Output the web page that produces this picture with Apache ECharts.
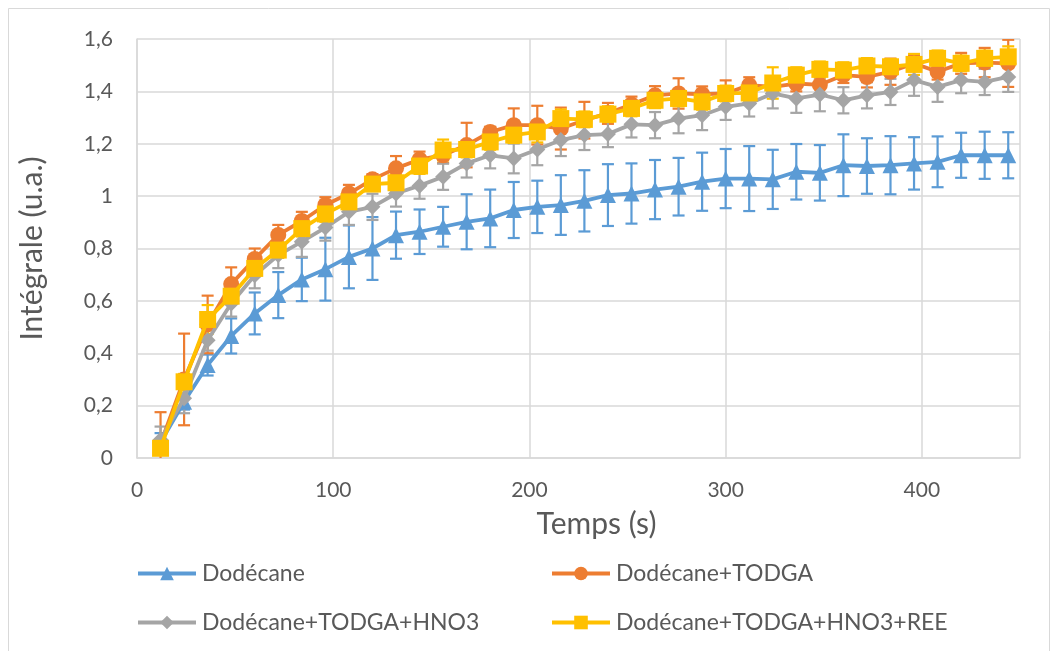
<!DOCTYPE html>
<html>
<head>
<meta charset="utf-8">
<script src="https://cdn.jsdelivr.net/npm/echarts@6/dist/echarts.min.js"></script>
<style>
html,body{margin:0;padding:0;background:#fff;}
#c{width:1056px;height:651px;}
</style>
</head>
<body>
<div id="c"></div>
<script>
// Time (s)
const times = [12,24,36,48,60,72,84,96,108,120,132,144,156,168,180,192,204,216,228,240,252,264,276,288,300,312,324,336,348,360,372,384,396,408,420,432,444];

const seriesNames = ['Dodécane','Dodécane+TODGA','Dodécane+TODGA+HNO3','Dodécane+TODGA+HNO3+REE'];

const dodecane = [0.06,0.215,0.355,0.466,0.552,0.622,0.682,0.721,0.768,0.80,0.851,0.864,0.883,0.902,0.915,0.947,0.959,0.966,0.982,1.004,1.01,1.025,1.036,1.055,1.067,1.067,1.064,1.093,1.089,1.118,1.115,1.118,1.125,1.131,1.156,1.156,1.156];
const dodecaneErr = [0.035,0.03,0.04,0.067,0.08,0.088,0.083,0.12,0.12,0.12,0.09,0.085,0.076,0.105,0.11,0.107,0.10,0.114,0.117,0.118,0.115,0.113,0.11,0.111,0.113,0.124,0.113,0.106,0.106,0.118,0.106,0.111,0.10,0.097,0.086,0.09,0.088];

const todga = [0.055,0.30,0.51,0.664,0.76,0.852,0.905,0.966,1.01,1.064,1.106,1.14,1.156,1.195,1.245,1.271,1.271,1.258,1.29,1.316,1.35,1.385,1.392,1.389,1.392,1.424,1.417,1.43,1.425,1.462,1.455,1.475,1.507,1.475,1.507,1.51,1.507];
const todgaErr = [0.12,0.175,0.11,0.064,0.04,0.038,0.035,0.03,0.033,0.02,0.047,0.03,0.03,0.085,0.02,0.064,0.074,0.08,0.07,0.04,0.03,0.035,0.058,0.03,0.05,0.03,0.03,0.03,0.04,0.03,0.04,0.05,0.03,0.03,0.04,0.056,0.09];

const hno3 = [0.07,0.228,0.45,0.59,0.698,0.775,0.826,0.88,0.94,0.959,1.01,1.04,1.074,1.125,1.156,1.144,1.178,1.214,1.233,1.237,1.274,1.271,1.296,1.309,1.341,1.354,1.392,1.373,1.388,1.366,1.385,1.398,1.443,1.417,1.443,1.436,1.455];
const hno3Err = [0.05,0.057,0.04,0.05,0.05,0.05,0.058,0.05,0.05,0.05,0.05,0.05,0.05,0.054,0.05,0.057,0.06,0.061,0.057,0.05,0.05,0.05,0.056,0.057,0.05,0.05,0.057,0.055,0.064,0.05,0.05,0.05,0.06,0.057,0.05,0.05,0.057];

const ree = [0.037,0.291,0.529,0.618,0.724,0.794,0.876,0.932,0.978,1.046,1.051,1.115,1.176,1.178,1.207,1.233,1.245,1.296,1.293,1.313,1.335,1.366,1.373,1.36,1.392,1.394,1.432,1.462,1.484,1.481,1.497,1.494,1.503,1.526,1.507,1.526,1.532];
const reeErr = [0.02,0.03,0.055,0.03,0.03,0.03,0.03,0.03,0.03,0.025,0.03,0.03,0.04,0.03,0.03,0.03,0.04,0.035,0.03,0.03,0.03,0.03,0.03,0.03,0.03,0.03,0.06,0.03,0.03,0.03,0.03,0.03,0.04,0.03,0.03,0.03,0.04];

const colors = ['#5b9bd5','#ed7d31','#a5a5a5','#ffc000'];
const symbols = ['triangle','circle','diamond','rect'];
const symbolSizes = [16,16,16,17];
const values = [dodecane, todga, hno3, ree];
const errors = [dodecaneErr, todgaErr, hno3Err, reeErr];

const FONT = 'Lato, "Open Sans", sans-serif';
const TXT = '#595959';

function errSeries(i){
  return {
    type:'custom',
    name: seriesNames[i] + ' err',
    clip: true,
    z: 1 + i,
    silent: true,
    data: times.map((t,k)=>[t, values[i][k], errors[i][k]]),
    renderItem: function(params, api){
      const x = api.value(0), y = api.value(1), e = api.value(2);
      const p = api.coord([x, y + e]);
      const q = api.coord([x, y - e]);
      const hw = 6;
      const st = {stroke: colors[i], lineWidth: 2.2};
      return {type:'group', children:[
        {type:'line', shape:{x1:p[0],y1:p[1],x2:q[0],y2:q[1]}, style:st},
        {type:'line', shape:{x1:p[0]-hw,y1:p[1],x2:p[0]+hw,y2:p[1]}, style:st},
        {type:'line', shape:{x1:q[0]-hw,y1:q[1],x2:q[0]+hw,y2:q[1]}, style:st}
      ]};
    }
  };
}

function lineSeries(i){
  return {
    type:'line',
    name: seriesNames[i],
    z: 10 + i,
    data: times.map((t,k)=>[t, values[i][k]]),
    symbol: symbols[i],
    symbolSize: symbolSizes[i],
    showAllSymbol: true,
    lineStyle: {color: colors[i], width: 3.8},
    itemStyle: {color: colors[i]},
    emphasis: {disabled: true},
    animation: false
  };
}

const legendPos = [[131,557],[545,557],[131,606],[545,606]];

const chart = echarts.init(document.getElementById('c'), null, {renderer:'canvas'});
chart.setOption({
  backgroundColor:'#ffffff',
  animation:false,
  graphic:[{type:'rect', shape:{x:8.5,y:8.5,width:1041,height:660}, style:{fill:'none', stroke:'#d9d9d9', lineWidth:1}, silent:true, z:-10}],
  grid:{left:137, right:36, top:39, bottom:193, containLabel:false},
  legend: legendPos.map((p,i)=>({
    data:[seriesNames[i]],
    left:p[0], top:p[1],
    itemWidth:58, itemHeight:17, itemGap:4,
    lineStyle:{width:4},
    textStyle:{color:TXT, fontSize:23, fontFamily:FONT, padding:[0,0,0,1]},
    selectedMode:false
  })),
  xAxis:{
    type:'value', min:0, max:450, interval:100,
    name:'Temps (s)', nameLocation:'middle', nameGap:51,
    nameTextStyle:{color:TXT, fontSize:30, fontFamily:FONT, padding:[0,0,0,36]},
    axisLine:{show:true, lineStyle:{color:'#d9d9d9', width:1.5}},
    axisTick:{show:false},
    axisLabel:{color:TXT, fontSize:21, fontFamily:FONT, margin:22, showMaxLabel:false},
    splitLine:{show:true, lineStyle:{color:'#d9d9d9', width:1.5}}
  },
  yAxis:{
    type:'value', min:0, max:1.6, interval:0.2,
    name:'Intégrale (u.a.)', nameLocation:'middle', nameGap:90, nameRotate:90,
    nameTextStyle:{color:TXT, fontSize:30, fontFamily:FONT},
    axisLine:{show:true, lineStyle:{color:'#d9d9d9', width:1.5}},
    axisTick:{show:false},
    axisLabel:{color:TXT, fontSize:21, fontFamily:FONT, margin:24,
      formatter: v => String(Math.round(v*10)/10).replace('.', ',')},
    splitLine:{show:true, lineStyle:{color:'#d9d9d9', width:1.5}}
  },
  series:[errSeries(0), errSeries(1), errSeries(2), errSeries(3),
          lineSeries(0), lineSeries(1), lineSeries(2), lineSeries(3)]
});
</script>
</body>
</html>
